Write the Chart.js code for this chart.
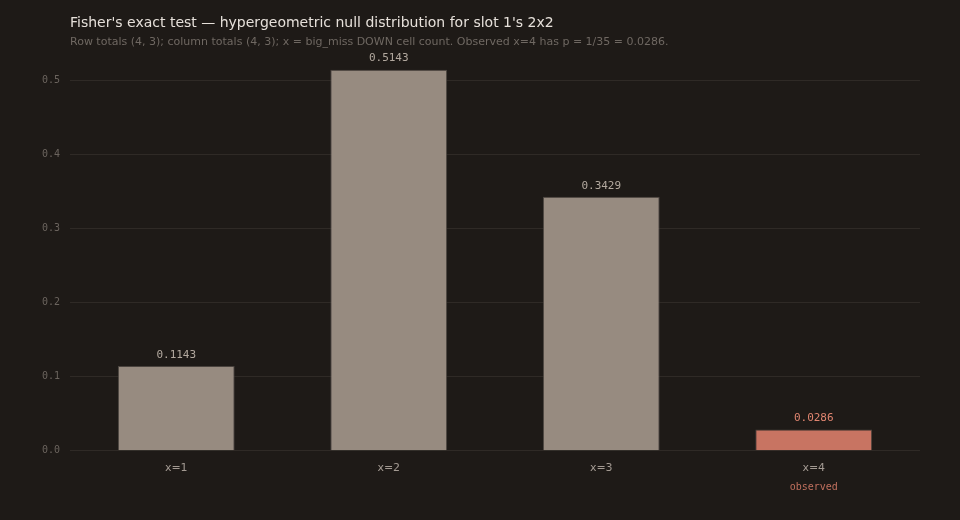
<!DOCTYPE html>
<html>
<head>
<meta charset="utf-8">
<script src="https://cdn.jsdelivr.net/npm/chart.js@4/dist/chart.umd.min.js"></script>
<style>
  html, body { margin: 0; padding: 0; background: #1e1a17; }
  #wrap { width: 960px; height: 520px; position: relative; }
</style>
</head>
<body>
<div id="wrap"><canvas id="fisher-chart"></canvas></div>
<script>
// ==============================
// Data
// ==============================
const categories = ["x=1", "x=2", "x=3", "x=4"];
const probabilities = [0.1143, 0.5143, 0.3429, 0.0286];
const valueLabels = ["0.1143", "0.5143", "0.3429", "0.0286"];
const observedIndex = 3;
const yTicks = [0, 0.1, 0.2, 0.3, 0.4, 0.5];

const titleText = "Fisher's exact test \u2014 hypergeometric null distribution for slot 1's 2x2";
const subtitleText = "Row totals (4, 3); column totals (4, 3); x = big_miss DOWN cell count. Observed x=4 has p = 1/35 = 0.0286.";

// ==============================
// Colours
// ==============================
const barGrey = "#978b80";
const barObserved = "#c87462";
const monoFont = "'DejaVu Sans Mono', monospace";
const sansFont = "'DejaVu Sans', sans-serif";

const barColors = probabilities.map(function (v, i) {
    return i === observedIndex ? barObserved : barGrey;
});

// ==============================
// Extra drawing (titles, value labels, "observed")
// ==============================
const annotatePlugin = {
    id: "annotate",
    afterDatasetsDraw: function (chart) {
        const ctx = chart.ctx;
        const meta = chart.getDatasetMeta(0);
        ctx.save();

        // header
        ctx.textAlign = "left";
        ctx.textBaseline = "middle";
        ctx.fillStyle = "#e6e0da";
        ctx.font = "14px " + sansFont;
        ctx.fillText(titleText, 70, 23);
        ctx.fillStyle = "#6f6862";
        ctx.font = "11px " + sansFont;
        ctx.fillText(subtitleText, 70, 42);

        // value labels above bars
        ctx.textAlign = "center";
        ctx.font = "11px " + monoFont;
        meta.data.forEach(function (bar, i) {
            ctx.fillStyle = i === observedIndex ? "#e08570" : "#b3a99f";
            ctx.fillText(valueLabels[i], bar.x, bar.y - 11);
        });

        // "observed" under the last category
        const obs = meta.data[observedIndex];
        ctx.fillStyle = "#c0705e";
        ctx.font = "10px " + monoFont;
        ctx.fillText("observed", obs.x, 487);
        ctx.restore();
    }
};

// ==============================
// Chart
// ==============================
const fisherChart = new Chart(document.getElementById("fisher-chart"), {
    type: "bar",
    data: {
        labels: categories,
        datasets: [
            {
                data: probabilities,
                backgroundColor: barColors,
                borderColor: "#4a433e",
                borderWidth: 1,
                categoryPercentage: 1.0,
                barPercentage: 0.55
            }
        ]
    },
    options: {
        responsive: true,
        maintainAspectRatio: false,
        animation: false,
        layout: {
            padding: { top: 58, right: 40, bottom: 42, left: 10 }
        },
        plugins: {
            legend: { display: false },
            tooltip: { enabled: false }
        },
        scales: {
            x: {
                grid: { display: false },
                border: { display: false },
                ticks: {
                    color: "#a39a92",
                    font: { family: sansFont, size: 11 },
                    padding: 3
                }
            },
            y: {
                min: 0,
                max: 0.53,
                afterBuildTicks: function (scale) {
                    scale.ticks = yTicks.map(function (v) { return { value: v }; });
                },
                afterFit: function (scale) {
                    scale.width = 60;
                },
                grid: { color: "#2f2a26", lineWidth: 1, drawTicks: false },
                border: { display: false },
                ticks: {
                    color: "#6b645e",
                    font: { family: monoFont, size: 10 },
                    padding: 10,
                    callback: function (value) {
                        return Number(value).toFixed(1);
                    }
                }
            }
        }
    },
    plugins: [annotatePlugin]
});
</script>
</body>
</html>
